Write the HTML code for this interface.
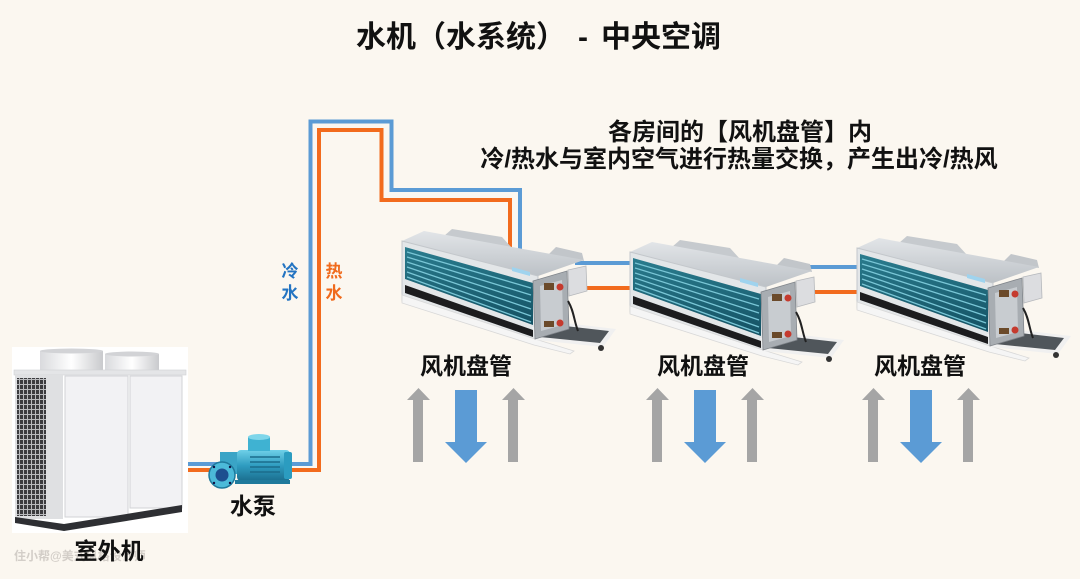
<!DOCTYPE html>
<html><head><meta charset="utf-8">
<style>
html,body{margin:0;padding:0;background:#fbf7f0;}
svg{display:block;}
text{font-family:"Liberation Sans","Noto Sans CJK SC",sans-serif;font-weight:bold;}
</style></head>
<body>
<svg width="1080" height="579" viewBox="0 0 1080 579" xmlns="http://www.w3.org/2000/svg">
<defs>
  <linearGradient id="topg" x1="0" y1="0" x2="0" y2="1">
    <stop offset="0" stop-color="#e2e5e8"/><stop offset="1" stop-color="#bcc1c6"/>
  </linearGradient>
  <linearGradient id="coilg" x1="0" y1="0" x2="0" y2="1">
    <stop offset="0" stop-color="#2a7c8e"/><stop offset="1" stop-color="#145163"/>
  </linearGradient>
  <linearGradient id="fang" x1="0" y1="0" x2="1" y2="0">
    <stop offset="0" stop-color="#d9dadd"/><stop offset="0.5" stop-color="#ffffff"/><stop offset="1" stop-color="#c9cacd"/>
  </linearGradient>
  <linearGradient id="motorg" x1="0" y1="0" x2="0" y2="1">
    <stop offset="0" stop-color="#6fd0e8"/><stop offset="0.5" stop-color="#2f9cc0"/><stop offset="1" stop-color="#1b6f8f"/>
  </linearGradient>
  <pattern id="slat" width="4" height="5" patternUnits="userSpaceOnUse">
    <rect width="4" height="5" fill="#b9babd"/><rect x="0" y="0" width="3" height="4" fill="#3b3b3e"/>
  </pattern>
  <g id="fcu">
    <!-- roof bumps -->
    <polygon points="42,-5 50,-12 100,-4 110,7" fill="#c6cace"/>
    <polygon points="146,14 154,6 180,12 182,20" fill="#c2c6ca"/>
    <!-- top face -->
    <polygon points="0,0 22,-10 182,19 136,35" fill="url(#topg)"/>
    <!-- front frame -->
    <polygon points="0,0 136,35 136,100 0,60" fill="#e3e6e8" stroke="#c3c7cb" stroke-width="1"/>
    <!-- coil -->
    <polygon points="3,6 131,42 131,84 3,38" fill="url(#coilg)"/>
    <g stroke="#79c6d6" stroke-width="1.3">
      <line x1="5" y1="11" x2="129" y2="47"/>
      <line x1="5" y1="16" x2="129" y2="54"/>
      <line x1="5" y1="21" x2="129" y2="61"/>
      <line x1="5" y1="26" x2="129" y2="68"/>
      <line x1="5" y1="31" x2="129" y2="75"/>
      <line x1="5" y1="36" x2="129" y2="81"/>
    </g>
    <!-- black opening -->
    <polygon points="3,44 131,89 131,96 3,52" fill="#1c1c1e"/>
    <!-- white base -->
    <polygon points="0,54 133,98 172,110 168,113 132,104 0,62" fill="#f5f5f5" stroke="#d8d8d8" stroke-width="0.8"/>
    <!-- sticker -->
    <polygon points="110,26 128,31 128,35 110,30" fill="#9fd3ee"/>
    <!-- drain pan -->
    <polygon points="130,86 163,82 214,88 201,106 134,99" fill="#f0f0f0"/>
    <polygon points="136,88 163,85 207,90 198,102 138,96" fill="#50565b"/>
    <circle cx="199" cy="107" r="3" fill="#333"/>
    <!-- end bracket -->
    <polygon points="131,40 165,30 167,88 133,98" fill="#a8adb2" stroke="#80858b" stroke-width="0.8"/>
    <polygon points="138,45 160,39 161,84 139,90" fill="#c8ccd0"/>
    <circle cx="158" cy="46" r="3.5" fill="#c53a2e"/>
    <circle cx="158" cy="82" r="3.5" fill="#c53a2e"/>
    <rect x="142" y="42" width="10" height="7" fill="#6b4a2a"/>
    <rect x="142" y="80" width="10" height="6" fill="#6b4a2a"/>
    <path d="M166,60 C172,70 172,80 176,90" stroke="#222" stroke-width="2" fill="none"/>
    <!-- motor box -->
    <polygon points="166,29 184,25 185,50 167,55" fill="#dcdde0" stroke="#b5b8bc" stroke-width="0.8"/>
  </g>
</defs>

<rect width="1080" height="579" fill="#fbf7f0"/>

<!-- Title -->
<text x="356" y="47" font-size="30" fill="#111">水机（水系统）</text>
<text x="578" y="47" font-size="30" fill="#111">-</text>
<text x="601" y="47" font-size="30" fill="#111">中央空调</text>

<!-- Subtitle -->
<text x="740" y="140" font-size="24" fill="#111" text-anchor="middle">各房间的【风机盘管】内</text>
<text x="739" y="167" font-size="24" fill="#111" text-anchor="middle">冷/热水与室内空气进行热量交换，产生出冷/热风</text>

<!-- Pipes -->
<polyline points="186,464 310.5,464 310.5,121.5 391.5,121.5 391.5,190 520,190 520,252" fill="none" stroke="#5b9bd5" stroke-width="4"/>
<polyline points="186,470 319,470 319,130 381.5,130 381.5,200 510,200 510,250" fill="none" stroke="#f26b1d" stroke-width="4"/>
<line x1="575" y1="263" x2="640" y2="263" stroke="#5b9bd5" stroke-width="4"/>
<line x1="575" y1="288" x2="640" y2="288" stroke="#f26b1d" stroke-width="4"/>
<line x1="798" y1="267" x2="866" y2="267" stroke="#5b9bd5" stroke-width="4"/>
<line x1="812" y1="292" x2="866" y2="292" stroke="#f26b1d" stroke-width="4"/>

<!-- pipe labels -->
<text x="290" y="277" font-size="17" fill="#2374c2" text-anchor="middle">冷</text>
<text x="290" y="299" font-size="17" fill="#2374c2" text-anchor="middle">水</text>
<text x="334" y="277" font-size="17" fill="#f06a1c" text-anchor="middle">热</text>
<text x="334" y="299" font-size="17" fill="#f06a1c" text-anchor="middle">水</text>

<!-- Fan coil units -->
<use href="#fcu" x="402" y="241"/>
<use href="#fcu" x="630" y="252"/>
<use href="#fcu" x="857" y="248"/>

<!-- FCU labels -->
<text x="466" y="374" font-size="23" fill="#111" text-anchor="middle">风机盘管</text>
<text x="703" y="374" font-size="23" fill="#111" text-anchor="middle">风机盘管</text>
<text x="920" y="374" font-size="23" fill="#111" text-anchor="middle">风机盘管</text>

<!-- Arrows -->
<g>
  <polygon points="413,462 413,400 407,400 418.5,388 430,400 423,400 423,462" fill="#a5a5a5"/>
  <polygon points="455,390 477,390 477,442 487,442 466,463 445,442 455,442" fill="#5b9bd5"/>
  <polygon points="508,462 508,400 502,400 513.5,388 525,400 518,400 518,462" fill="#a5a5a5"/>
</g>
<g transform="translate(239,0)">
  <polygon points="413,462 413,400 407,400 418.5,388 430,400 423,400 423,462" fill="#a5a5a5"/>
  <polygon points="455,390 477,390 477,442 487,442 466,463 445,442 455,442" fill="#5b9bd5"/>
  <polygon points="508,462 508,400 502,400 513.5,388 525,400 518,400 518,462" fill="#a5a5a5"/>
</g>
<g transform="translate(455,0)">
  <polygon points="413,462 413,400 407,400 418.5,388 430,400 423,400 423,462" fill="#a5a5a5"/>
  <polygon points="455,390 477,390 477,442 487,442 466,463 445,442 455,442" fill="#5b9bd5"/>
  <polygon points="508,462 508,400 502,400 513.5,388 525,400 518,400 518,462" fill="#a5a5a5"/>
</g>

<!-- Outdoor unit -->
<rect x="12" y="347" width="176" height="186" fill="#ffffff"/>
<rect x="40" y="351" width="63" height="21" fill="url(#fang)"/>
<ellipse cx="71.5" cy="351" rx="31.5" ry="2.5" fill="#d2d3d6"/>
<rect x="105" y="354" width="54" height="18" fill="url(#fang)"/>
<ellipse cx="132" cy="354" rx="27" ry="2.5" fill="#d2d3d6"/>
<rect x="14" y="370" width="172" height="5" fill="#e4e5e7" stroke="#d0d1d4" stroke-width="0.6"/>
<rect x="15" y="375" width="48" height="144" fill="#dfe0e2"/>
<rect x="17" y="378" width="29" height="138" fill="url(#slat)"/>
<rect x="65" y="376" width="63" height="141" fill="#f2f2f4" stroke="#d2d3d6" stroke-width="1"/>
<rect x="130" y="376" width="52" height="132" fill="#f2f2f4" stroke="#d2d3d6" stroke-width="1"/>
<polygon points="15,517 64,524 182,505 182,512 64,531 15,523" fill="#2e2f33"/>
<text x="14" y="560" font-size="12" fill="#d3cec8" font-weight="normal">住小帮@美式风格设计师</text>
<text x="109" y="559" font-size="23" fill="#111" text-anchor="middle">室外机</text>

<!-- Pump -->
<rect x="220" y="452" width="20" height="22" fill="#3aa4c6"/>
<rect x="237" y="450" width="53" height="31" rx="4" fill="url(#motorg)"/>
<g stroke="#1b6d8c" stroke-width="1.6">
  <line x1="250" y1="457" x2="280" y2="457"/>
  <line x1="250" y1="462" x2="280" y2="462"/>
  <line x1="250" y1="467" x2="280" y2="467"/>
  <line x1="250" y1="472" x2="280" y2="472"/>
</g>
<rect x="284" y="452" width="8" height="27" rx="2" fill="#2b9cc0"/>
<rect x="248" y="437" width="22" height="14" fill="#3fb2d2"/>
<ellipse cx="259" cy="437" rx="11" ry="3" fill="#7fd6ea"/>
<rect x="235" y="480" width="55" height="4" fill="#1f7a9c"/>
<circle cx="222" cy="475" r="13" fill="#4cbad9" stroke="#1f7a9c" stroke-width="1.5"/>
<circle cx="222" cy="475" r="6.5" fill="#1d4f8f"/>
<circle cx="214" cy="467" r="1.2" fill="#114"/>
<circle cx="230" cy="467" r="1.2" fill="#114"/>
<circle cx="214" cy="483" r="1.2" fill="#114"/>
<circle cx="230" cy="483" r="1.2" fill="#114"/>
<text x="253" y="514" font-size="23" fill="#111" text-anchor="middle">水泵</text>
</svg>
</body></html>
